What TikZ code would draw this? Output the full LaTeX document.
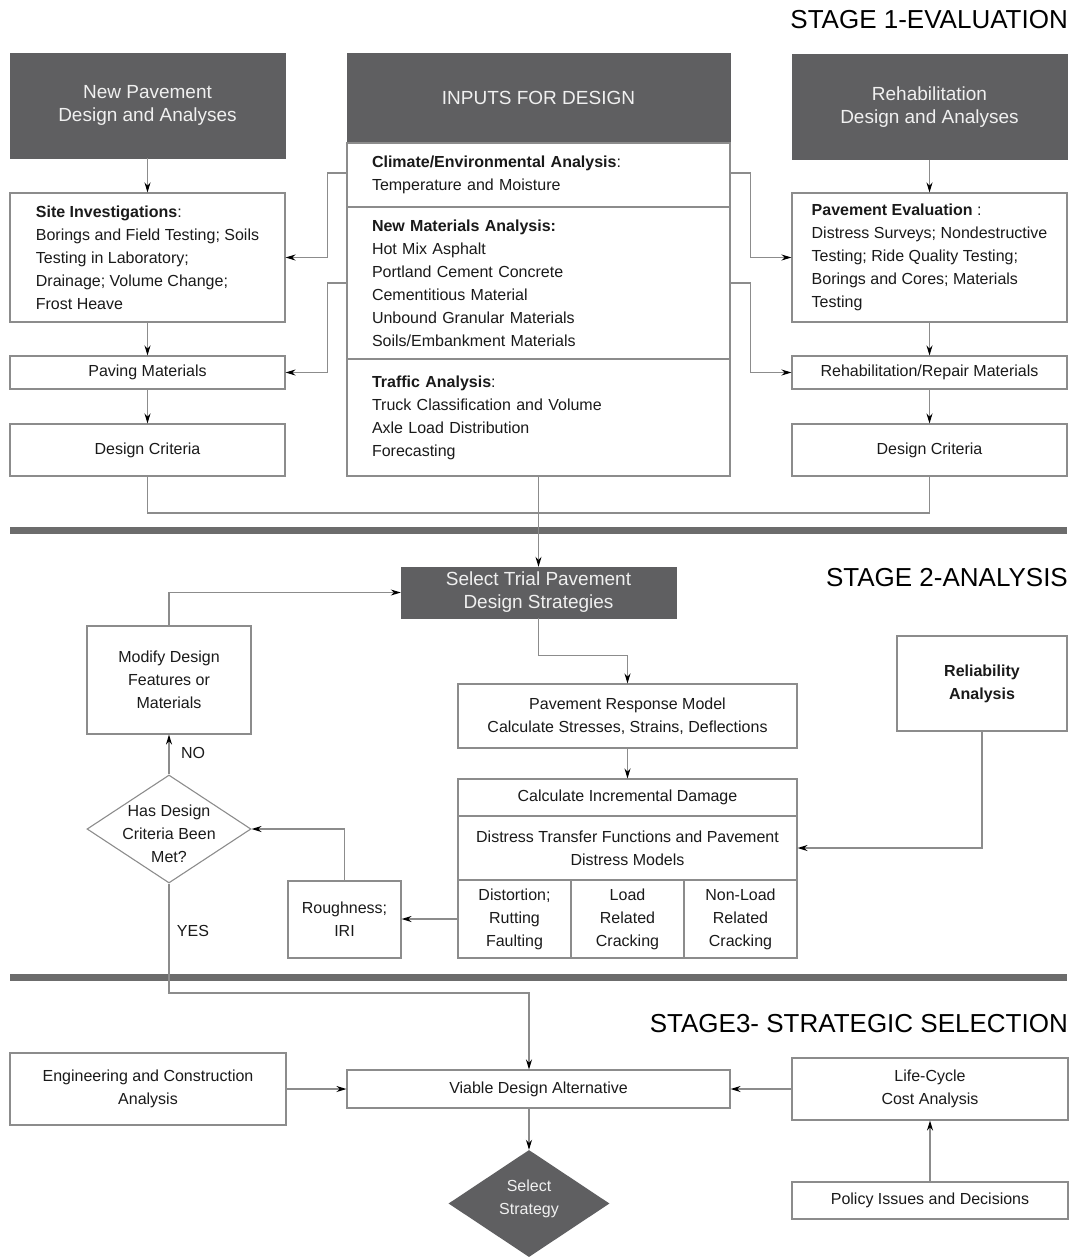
\documentclass[tikz,border=0pt]{standalone}
\usepackage{fontspec}
\setmainfont{Liberation Sans}
\usetikzlibrary{arrows.meta,shapes.geometric,calc}
\definecolor{darkbox}{HTML}{5F5F61}
\definecolor{lin}{HTML}{8C8C8C}
\definecolor{txt}{HTML}{1A1A1A}
\definecolor{barc}{HTML}{6C6C6C}
\begin{document}
\begin{tikzpicture}[x=1pt,y=-1pt,
  every node/.style={font=\fontsize{16}{23}\selectfont, text=txt},
  box/.style={draw=lin, line width=1.1pt, fill=white, inner sep=0pt, align=center},
  dbox/.style={draw=darkbox, fill=darkbox, inner sep=0pt, align=center, text=white!94!black, font=\fontsize{19}{23}\selectfont},
  sec/.style={box, align=left, text width=333pt, inner xsep=25pt, minimum width=383pt},
  stage/.style={anchor=east, inner sep=0pt, font=\fontsize{26}{30}\selectfont, text=black},
  conn/.style={draw=lin, line width=1.1pt},
  arr/.style={conn, -{Stealth[length=10pt,width=6pt,color=black]}},
  lbl/.style={inner sep=0pt}
]
\useasboundingbox (0,0) rectangle (1073,1258);

% stage titles
\node[stage] (st1) at (1068,20) {STAGE 1-EVALUATION};
\node[stage] (st2) at (1068,578) {STAGE 2-ANALYSIS};
\node[stage] (st3) at (1068,1024) {STAGE3- STRATEGIC SELECTION};

% ---------- STAGE 1 ----------
\node[dbox, minimum width=275pt, minimum height=105pt] (ndark) at (147.5,105.5) {New Pavement\\Design and Analyses};
\node[dbox, minimum width=383pt, minimum height=90pt] (inhead) at (538.5,98) {INPUTS FOR DESIGN};
\node[dbox, minimum width=275pt, minimum height=105pt] (rdark) at (929.5,107) {Rehabilitation\\Design and Analyses};

\node[sec, minimum height=64pt] (sec1) at (538.5,175) {\textbf{Climate/Environmental Analysis}:\\Temperature and Moisture};
\node[sec, minimum height=152pt] (sec2) at (538.5,283) {\textbf{New Materials Analysis:}\\Hot Mix Asphalt\\Portland Cement Concrete\\Cementitious Material\\Unbound Granular Materials\\Soils/Embankment Materials};
\node[sec, minimum height=117pt] (sec3) at (538.5,417.5) {\textbf{Traffic Analysis}:\\Truck Classification and Volume\\Axle Load Distribution\\Forecasting};

\node[box, align=left, minimum width=275pt, minimum height=129pt] (site) at (147.5,257.5) {\textbf{Site Investigations}:\\Borings and Field Testing; Soils\\Testing in Laboratory;\\Drainage; Volume Change;\\Frost Heave};
\node[box, align=left, minimum width=275pt, minimum height=129pt] (peval) at (929.5,257.5) {\textbf{Pavement Evaluation} :\\Distress Surveys; Nondestructive\\Testing; Ride Quality Testing;\\Borings and Cores; Materials\\Testing};

\node[box, minimum width=275pt, minimum height=33pt] (pav) at (147.5,372.5) {Paving Materials};
\node[box, minimum width=275pt, minimum height=33pt] (rrm) at (929.5,372.5) {Rehabilitation/Repair Materials};
\node[box, minimum width=275pt, minimum height=52pt] (dcl) at (147.5,450) {Design Criteria};
\node[box, minimum width=275pt, minimum height=52pt] (dcr) at (929.5,450) {Design Criteria};

\draw[arr] (ndark.south) -- (site.north);
\draw[arr] (site.south) -- (pav.north);
\draw[arr] (pav.south) -- (dcl.north);
\draw[arr] (rdark.south) -- (peval.north);
\draw[arr] (peval.south) -- (rrm.north);
\draw[arr] (rrm.south) -- (dcr.north);

\draw[arr] ($(sec1.west)+(0,-2)$) -- ++(-19,0) |- (site.east);
\draw[arr] (sec2.west) -- ++(-19,0) |- (pav.east);
\draw[arr] ($(sec1.east)+(0,-2)$) -- ++(20,0) |- (peval.west);
\draw[arr] (sec2.east) -- ++(20,0) |- (rrm.west);

\coordinate (j1) at (538.5,513);
\draw[conn] (dcl.south) |- (j1);
\draw[conn] (dcr.south) |- (j1);

% separator 1
\fill[barc] (10,527) rectangle (1067,534);

% ---------- STAGE 2 ----------
\node[dbox, minimum width=275pt, minimum height=51pt] (sel) at (538.5,592.5) {Select Trial Pavement\\Design Strategies};
\draw[arr] (sec3.south) -- (sel.north);

\node[box, minimum width=164pt, minimum height=108pt] (mod) at (169,680) {Modify Design\\Features or\\Materials};
\node[draw=lin, line width=1.1pt, shape=diamond, minimum width=164pt, minimum height=108pt, inner sep=0pt] (dia) at (169,829) {};
\node[align=center, inner sep=0pt] (diat) at (169,834) {Has Design\\Criteria Been\\Met?};

\node[box, minimum width=339pt, minimum height=64pt] (resp) at (627.5,716) {Pavement Response Model\\Calculate Stresses, Strains, Deflections};
\node[box, minimum width=339pt, minimum height=37pt] (c1) at (627.5,797.5) {Calculate Incremental Damage};
\node[box, minimum width=339pt, minimum height=64pt] (c2) at (627.5,848) {Distress Transfer Functions and Pavement\\Distress Models};
\node[box, minimum width=113pt, minimum height=78pt] (c3a) at (514.5,919) {Distortion;\\Rutting\\Faulting};
\node[box, minimum width=113pt, minimum height=78pt] (c3b) at (627.5,919) {Load\\Related\\Cracking};
\node[box, minimum width=113pt, minimum height=78pt] (c3c) at (740.5,919) {Non-Load\\Related\\Cracking};

\node[box, minimum width=170pt, minimum height=95pt] (rel) at (982,683.5) {\textbf{Reliability}\\\textbf{Analysis}};
\node[box, minimum width=113pt, minimum height=77pt] (rough) at (344.5,919.5) {Roughness;\\IRI};

\draw[arr] (mod.north) |- (sel.west);
\draw[arr] (sel.south) -- ++(0,37) -| (resp.north);
\draw[arr] (resp.south) -- (c1.north);
\draw[arr] (rel.south) |- (c2.east);
\draw[arr] (c3a.west) -- (rough.east |- c3a.west);
\draw[arr] (rough.north) |- (dia.east);
\draw[arr] (dia.north) -- (mod.south);
\node[lbl] (no) at (193,753) {NO};
\node[lbl] (yes) at (193,931) {YES};

% separator 2
\fill[barc] (10,974) rectangle (1067,981);

% ---------- STAGE 3 ----------
\node[box, minimum width=276pt, minimum height=72pt] (eng) at (148,1089) {Engineering and Construction\\Analysis};
\node[box, minimum width=383pt, minimum height=38pt] (via) at (538.5,1089) {Viable Design Alternative};
\node[box, minimum width=276pt, minimum height=62pt] (lcc) at (930,1089) {Life-Cycle\\Cost Analysis};
\node[box, minimum width=276pt, minimum height=37pt] (pol) at (930,1200.5) {Policy Issues and Decisions};
\node[shape=diamond, fill=darkbox, minimum width=161pt, minimum height=107pt, inner sep=0pt] (ssd) at (529,1203.5) {};
\node[align=center, inner sep=0pt, text=white!94!black] (ssdt) at (529,1198.5) {Select\\Strategy};

\coordinate (yt) at (529,993);
\draw[arr] (dia.south) |- (yt) -- (yt |- via.north);
\draw[arr] (eng.east) -- (via.west);
\draw[arr] (lcc.west) -- (via.east);
\draw[arr] (pol.north) -- (lcc.south);
\draw[arr] (via.south -| ssd.north) -- (ssd.north);
\end{tikzpicture}
\end{document}
